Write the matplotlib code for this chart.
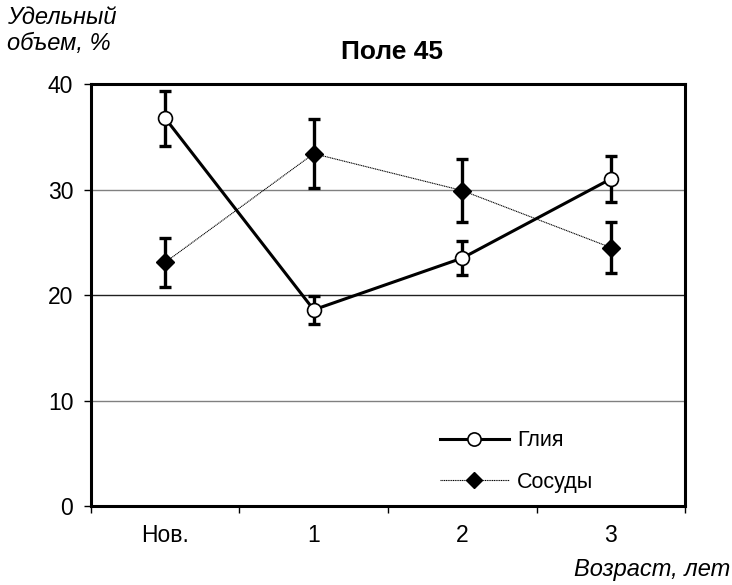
import matplotlib
matplotlib.use("Agg")
import matplotlib.pyplot as plt
from matplotlib.lines import Line2D

plt.rcParams['font.family'] = ['Liberation Sans', 'DejaVu Sans']

categories = ["Нов.", "1", "2", "3"]
glia = [36.75, 18.6, 23.5, 31.0]
glia_err = [2.6, 1.3, 1.6, 2.2]
vessels = [23.1, 33.4, 29.9, 24.5]
vessels_err = [2.3, 3.3, 3.0, 2.45]
yticks = [0, 10, 20, 30, 40]

fig = plt.figure(figsize=(7.32, 5.85), dpi=100)
ax = fig.add_axes([0.1243, 0.135, 0.8115, 0.7214])

x = list(range(len(categories)))

for y, c in [(10, '#808080'), (20, '#202020'), (30, '#808080')]:
    ax.axhline(y, color=c, lw=1.0, zorder=0)

ax.errorbar(x, vessels, yerr=vessels_err, fmt='none', ecolor='black',
            elinewidth=2.4, capsize=4.5, capthick=2.4, zorder=2)
ax.errorbar(x, glia, yerr=glia_err, fmt='none', ecolor='black',
            elinewidth=2.4, capsize=4.5, capthick=2.4, zorder=2)

ax.plot(x, vessels, color='black', lw=0.8, ls=(0, (1, 0.6)), zorder=3)
ax.plot(x, vessels, ls='none', marker='D', ms=9, mfc='black', mec='black', zorder=5)
ax.plot(x, glia, color='black', lw=2.2, zorder=3)
ax.plot(x, glia, ls='none', marker='o', ms=10, mfc='white', mec='black', mew=1.2, zorder=5)

ax.set_xlim(-0.5, 3.5)
ax.set_ylim(0, 40)
ax.set_yticks(yticks)
ax.set_yticklabels([str(v) for v in yticks], fontsize=16.5)
ax.set_xticks([-0.5, 0.5, 1.5, 2.5, 3.5])
ax.set_xticklabels([])
ax.set_xticks(x, minor=True)
ax.set_xticklabels(categories, minor=True, fontsize=16.5)
ax.tick_params(axis='x', which='minor', length=0, pad=13)
ax.tick_params(axis='x', which='major', length=5, width=1, direction='out')
ax.tick_params(axis='y', length=4.7, width=1, direction='out', pad=8)
for s in ax.spines.values():
    s.set_linewidth(2.2)

handles = [
    Line2D([], [], color='black', lw=2.2, marker='o', ms=9.5, mfc='white', mec='black', mew=1.2),
    Line2D([], [], color='black', lw=0.8, ls=(0, (1, 0.6)), marker='D', ms=8.5, mfc='black', mec='black'),
]
ax.legend(handles, ["Глия", "Сосуды"], loc='lower left', bbox_to_anchor=(0.555, -0.014),
          frameon=False, fontsize=15.5, handlelength=3.2, labelspacing=0.95, handletextpad=0.37)

fig.text(0.5355, 0.911, "Поле 45", ha='center', va='center', fontsize=19, fontweight='bold')
fig.text(0.009, 0.99, "Удельный\nобъем, %", ha='left', va='top', fontsize=17,
         style='italic', linespacing=1.2)
fig.text(0.997, 0.026, "Возраст, лет", ha='right', va='center', fontsize=17, style='italic')

fig.savefig("out.png", dpi=100)
